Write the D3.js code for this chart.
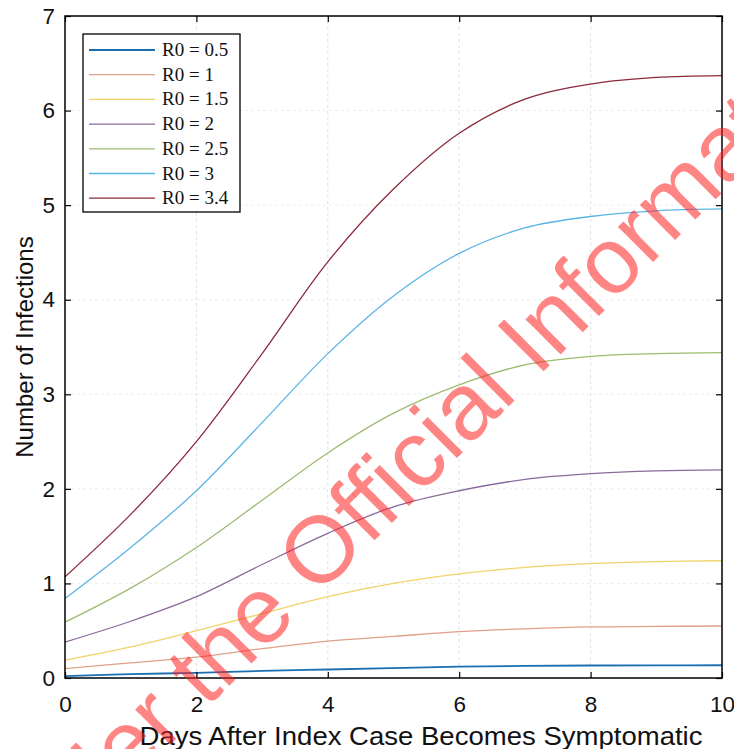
<!DOCTYPE html>
<html><head><meta charset="utf-8">
<script src="https://cdn.jsdelivr.net/npm/d3@7"></script>
<style>body{margin:0;background:#fff;}svg{display:block;}</style>
</head><body>
<svg id="chart" width="734" height="749"></svg>
<script>
const days = [0,1,2,3,4,5,6,7,8,9,10];
const seriesNames = ["R0 = 0.5","R0 = 1","R0 = 1.5","R0 = 2","R0 = 2.5","R0 = 3","R0 = 3.4"];
const r05 = [0.02,0.04,0.055,0.075,0.09,0.105,0.12,0.128,0.132,0.134,0.135];
const r10 = [0.10,0.16,0.22,0.31,0.39,0.44,0.49,0.52,0.54,0.545,0.55];
const r15 = [0.19,0.33,0.50,0.68,0.86,1.00,1.10,1.17,1.21,1.23,1.24];
const r20 = [0.38,0.60,0.86,1.20,1.53,1.81,1.98,2.10,2.16,2.19,2.20];
const r25 = [0.59,0.95,1.38,1.88,2.38,2.80,3.10,3.31,3.40,3.43,3.44];
const r30 = [0.84,1.38,1.98,2.70,3.43,4.04,4.49,4.76,4.88,4.94,4.96];
const r34 = [1.07,1.73,2.50,3.43,4.40,5.17,5.76,6.12,6.28,6.35,6.37];
const seriesValues = [r05,r10,r15,r20,r25,r30,r34];
const colors = ["#1a6fb0","#e0a088","#efd36a","#8a6a9a","#9cbc70","#5ab4e4","#8a2a3a"];
const xTicks = [0,2,4,6,8,10];
const yTicks = [0,1,2,3,4,5,6,7];
const xTitle = "Days After Index Case Becomes Symptomatic";
const yTitle = "Number of Infections";
const watermark = "Released under the Official Information Act 1982";

const W=734,H=749,m={l:65,r:12,t:16,b:71};
const svg=d3.select("#chart");
const x=d3.scaleLinear().domain([0,10]).range([m.l,W-m.r]);
const y=d3.scaleLinear().domain([0,7]).range([H-m.b,m.t]);
const sans="'Liberation Sans', Arial, sans-serif";

// grid
const g=svg.append("g");
g.selectAll(".gx").data(xTicks.slice(1,-1)).join("line")
 .attr("x1",d=>x(d)).attr("x2",d=>x(d)).attr("y1",y(0)).attr("y2",y(7))
 .attr("stroke","#d8d8d8").attr("stroke-width",0.8).attr("stroke-dasharray","3,3");
g.selectAll(".gy").data(yTicks.slice(1,-1)).join("line")
 .attr("y1",d=>y(d)).attr("y2",d=>y(d)).attr("x1",x(0)).attr("x2",x(10))
 .attr("stroke","#e8e8e8").attr("stroke-width",0.8).attr("stroke-dasharray","3,3");

// lines
const line=d3.line().x((d,i)=>x(days[i])).y(d=>y(d)).curve(d3.curveCatmullRom.alpha(0.5));
svg.append("g").selectAll("path").data(seriesValues).join("path")
 .attr("d",line).attr("fill","none").attr("stroke",(d,i)=>colors[i])
 .attr("stroke-width",(d,i)=>i===0?1.8:1.3);

// axes
const axB=d3.axisBottom(x).tickValues(xTicks).tickSize(-6).tickPadding(18).tickFormat(d3.format("d"));
const axL=d3.axisLeft(y).tickValues(yTicks).tickSize(-6).tickPadding(10).tickFormat(d3.format("d"));
const axT=d3.axisTop(x).tickValues(xTicks).tickSize(-6).tickFormat("");
const axR=d3.axisRight(y).tickValues(yTicks).tickSize(-6).tickFormat("");
[[axB,`translate(0,${y(0)})`],[axL,`translate(${x(0)},0)`],[axT,`translate(0,${y(7)})`],[axR,`translate(${x(10)},0)`]].forEach(([a,t])=>{
  const gg=svg.append("g").attr("transform",t).call(a);
  gg.select(".domain").remove();
  gg.selectAll(".tick line").attr("stroke","#000").attr("stroke-width",1.2);
  gg.selectAll("text").attr("font-family",sans).attr("font-size",22.5).attr("fill","#111");
});
svg.append("rect").attr("x",x(0)).attr("y",y(7)).attr("width",x(10)-x(0)).attr("height",y(0)-y(7))
 .attr("fill","none").attr("stroke","#000").attr("stroke-width",1.5);

// titles
svg.append("text").attr("x",421).attr("y",745).attr("text-anchor","middle")
 .attr("font-family",sans).attr("font-size",25).attr("fill","#111")
 .attr("textLength",563).attr("lengthAdjust","spacingAndGlyphs").text(xTitle);
svg.append("text").attr("transform",`translate(33,${(y(0)+y(7))/2}) rotate(-90)`).attr("text-anchor","middle")
 .attr("font-family",sans).attr("font-size",24).attr("fill","#111").text(yTitle);

// legend
const lg=svg.append("g");
lg.append("rect").attr("x",83).attr("y",34).attr("width",157).attr("height",178)
 .attr("fill","#fff").attr("stroke","#000").attr("stroke-width",1.3);
seriesNames.forEach((n,i)=>{
  const yy=50+i*24.7;
  lg.append("line").attr("x1",89).attr("x2",155).attr("y1",yy).attr("y2",yy)
   .attr("stroke",colors[i]).attr("stroke-width",i===0?1.8:1.3);
  lg.append("text").attr("x",162).attr("y",yy+6).attr("font-family","'Liberation Serif','Times New Roman',serif")
   .attr("font-size",19).attr("fill","#111").text(n);
});

// watermark
const wm=svg.append("g").attr("transform","translate(320,549) rotate(-45)");
const wt=wm.append("text").attr("font-family",sans).attr("font-size",94)
 .attr("dominant-baseline","central").attr("fill","#ff2020").attr("fill-opacity",0.55).text(watermark);
const idx=watermark.indexOf("Official");
const off=wt.node().getSubStringLength(0,idx)+wt.node().getSubStringLength(idx,1)/2;
wt.attr("x",-off);
</script>
</body></html>
